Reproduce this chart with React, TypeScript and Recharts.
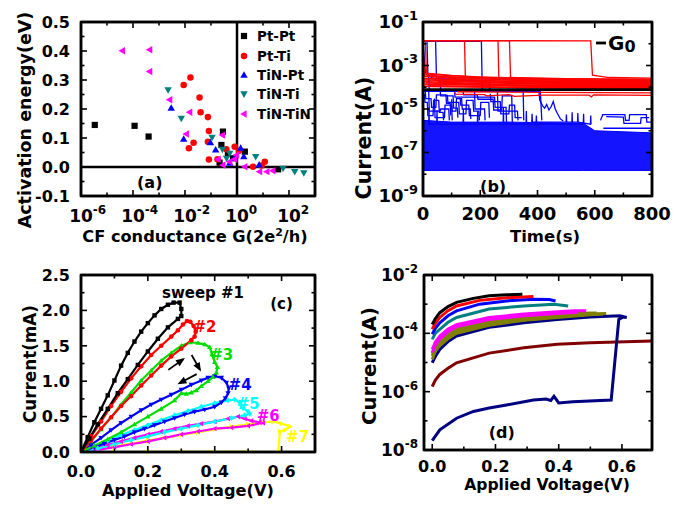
import React from 'react';
import {
  ScatterChart, Scatter, XAxis, YAxis, ReferenceLine, ReferenceDot,
  ComposedChart, Line, Area, LineChart,
} from 'recharts';

const FONT = "'DejaVu Sans', 'Liberation Sans', Arial, sans-serif";
const AXLINE = { stroke: '#000', strokeWidth: 2.5 };

// ---------------- Panel (a) data: [G (2e^2/h), Ea (eV)] ----------------
const ptPt: [number, number][] = [[3.39e-6, 0.145], [1.15e-4, 0.142], [3.98e-4, 0.105], [0.288, 0.122], [0.251, 0.076], [0.214, 0.015], [2.0, 0.053], [0.447, 0.045], [38, -0.008], [0.708, 0.03]];
const ptTi: [number, number][] = [[8.9e-3, 0.283], [1.62e-2, 0.309], [3.63e-2, 0.24], [3.98e-2, 0.189], [7.6e-2, 0.172], [8.3e-2, 0.124], [7.6e-2, 0.087], [2.14e-2, 0.084], [1.41e-2, 0.065], [8.3e-2, 0.026], [0.178, 0.027], [0.389, 0.061], [0.813, 0.07], [1.2, 0.056], [11.7, 0.018], [4.17, 0.001], [8.9, 0.005]];
const tinPt: [number, number][] = [[2.95e-3, 0.203], [8.9e-3, 0.096], [9.5e-2, 0.084], [0.151, 0.059], [1.38, 0.065], [1.82, 0.036], [7.1, 0.007], [0.525, 0.013], [0.794, 0.03]];
const tinTi: [number, number][] = [[2.24e-3, 0.266], [7.2e-3, 0.168], [0.11, 0.102], [0.275, 0.061], [0.525, 0.047], [5.25, 0.036], [58.9, -0.005], [166, -0.016], [372, -0.02], [0.398, 0.03]];
const tinTin: [number, number][] = [[3.9e-5, 0.401], [4.37e-4, 0.404], [4.37e-4, 0.329], [2.57e-3, 0.232], [1.51e-2, 0.189], [1.12e-2, 0.114], [0.275, 0.11], [0.186, 0.027], [0.525, 0.018], [0.813, 0.027], [2.0, 0.001], [7.4, -0.016], [14.1, -0.016], [24, -0.013], [0.288, 0.007], [0.955, 0.041]];

const ticksAx = [1e-6, 1e-5, 1e-4, 1e-3, 1e-2, 1e-1, 1, 10, 100, 1000];
const majorAx = [1e-6, 1e-4, 1e-2, 1, 100];
const ticksAy = [-0.1, -0.05, 0, 0.05, 0.1, 0.15, 0.2, 0.25, 0.3, 0.35, 0.4, 0.45, 0.5];
const majorAy = [-0.1, 0, 0.1, 0.2, 0.3, 0.4, 0.5];

// ---------------- Panel (b) data: [t (s), I (A)] ----------------
const G0 = 7.75e-5;
const redTraces: [number, number][][] = [
  [[0, 1.4e-2], [586, 1.35e-2], [592, 3.6e-4], [650, 2.8e-4], [800, 2.6e-4]],
  [[0, 1.4e-2], [302, 1.4e-2], [306, 2.6e-4], [500, 2.1e-4], [800, 2.0e-4]],
  [[0, 1.4e-2], [145, 1.4e-2], [148, 2.8e-4], [400, 1.9e-4], [800, 1.7e-4]],
  [[0, 1.4e-2], [262, 1.4e-2], [265, 2.3e-4], [500, 1.6e-4], [800, 1.5e-4]],
  [[0, 1.4e-2], [8, 1.4e-2], [12, 4.5e-4], [100, 3.5e-4], [250, 2.7e-4], [800, 2.2e-4]],
  [[0, 1.3e-2], [5, 3.2e-4], [200, 2.0e-4], [800, 1.3e-4]],
  [[0, 2.6e-4], [300, 1.5e-4], [800, 1.15e-4]],
  [[0, 1.8e-4], [400, 1.2e-4], [800, 1.0e-4]],
  [[0, 1.4e-4], [800, 9.2e-5]],
  [[0, 3.8e-4], [150, 2.5e-4], [450, 1.9e-4], [800, 1.8e-4]],
  [[20, 1.2e-4], [300, 1.0e-4], [800, 8.5e-5]],
  [[60, 3.0e-4], [350, 2.3e-4], [800, 2.1e-4]],
  [[0, 3.2e-4], [120, 2.9e-4], [400, 2.2e-4], [800, 1.95e-4]],
  [[0, 2.2e-4], [200, 1.75e-4], [600, 1.4e-4], [800, 1.35e-4]],
  [[10, 1.6e-4], [250, 1.3e-4], [800, 1.1e-4]],
  [[0, 1.1e-4], [350, 9.5e-5], [800, 8.8e-5]],
  [[30, 2.5e-4], [330, 1.8e-4], [700, 1.6e-4], [800, 1.55e-4]],
  [[50, 1.9e-4], [500, 1.3e-4], [800, 1.25e-4]],
  [[0, 4.2e-4], [60, 3.6e-4], [180, 3.0e-4], [500, 2.5e-4], [800, 2.35e-4]],
  [[100, 1.4e-4], [450, 1.05e-4], [800, 9.6e-5]],
  [[110, 6.0e-5], [115, 4.8e-5], [215, 4.6e-5], [222, 4.0e-5], [300, 4.6e-5], [320, 3.8e-5], [420, 4.3e-5], [580, 4.3e-5], [588, 3.6e-5], [596, 4.5e-5], [800, 4.2e-5]],
  [[120, 6.2e-5], [420, 5.8e-5], [800, 5.5e-5]],
];
const blueTraces: [number, number][][] = [
  [[0, 1.3e-2], [44, 1.3e-2], [47, 2.6e-4], [120, 2.3e-4], [200, 1.9e-4], [232, 1.6e-4], [235, 6.5e-5]],
  [[0, 1.3e-2], [204, 1.3e-2], [207, 6.5e-5], [410, 6.5e-5], [415, 3e-6]],
  [[0, 1.3e-2], [14, 1.3e-2], [17, 4e-4], [30, 2.8e-4], [60, 2e-4], [62, 6.5e-5]],
  [[0, 1.2e-2], [8, 5e-4], [20, 3e-4], [22, 6e-5]],
  [[0, 6.5e-5], [350, 6.5e-5], [352, 3e-6]],
  [[20, 6e-5], [22, 8e-6], [60, 8e-6], [62, 1e-5], [90, 1e-5], [92, 3e-6]],
  [[110, 6e-5], [112, 3.5e-5], [250, 3.5e-5], [252, 1.2e-5], [290, 1.2e-5], [292, 2e-6]],
  [[130, 3e-5], [132, 1.5e-5], [160, 1.5e-5], [162, 5e-6], [200, 5e-6], [202, 2e-5], [230, 2e-5], [232, 4e-6]],
  [[40, 3e-5], [42, 4e-6], [75, 4e-6], [77, 1.5e-5], [100, 1.5e-5], [102, 3e-6]],
  [[180, 6e-5], [182, 1e-5], [215, 1e-5], [217, 3e-6]],
  [[260, 6e-5], [262, 8e-6], [330, 8e-6], [332, 3e-6]],
  [[5, 5e-5], [7, 2e-5], [15, 2e-5], [17, 5e-6], [35, 5e-6], [37, 2.5e-5], [55, 2.5e-5], [57, 7e-6], [70, 7e-6], [72, 3e-6]],
  [[85, 4.5e-5], [87, 2e-5], [125, 2e-5], [127, 6e-6], [150, 6e-6], [152, 2.5e-5], [175, 2.5e-5], [177, 8e-6], [195, 8e-6], [197, 3e-6]],
  [[235, 5e-5], [237, 2.2e-5], [270, 2.2e-5], [272, 6e-6], [300, 6e-6], [302, 1.5e-5], [320, 1.5e-5], [322, 4e-6], [345, 4e-6]],
  [[60, 6.4e-5], [62, 4e-5], [105, 4e-5], [107, 1.1e-5], [120, 1.1e-5], [122, 4e-6]],
  [[8, 6.4e-5], [10, 3e-5], [28, 3e-5], [30, 1.2e-5], [45, 1.2e-5], [47, 4.5e-5], [80, 4.5e-5], [82, 1.8e-5], [95, 1.8e-5], [97, 5e-6]],
  [[140, 6.4e-5], [142, 4.5e-5], [190, 4.5e-5], [192, 2.8e-5], [245, 2.8e-5], [247, 9e-6], [275, 9e-6], [277, 4e-5], [310, 4e-5], [312, 2.5e-6]],
  [[100, 2.8e-5], [102, 8e-6], [115, 8e-6], [117, 3e-5], [135, 3e-5], [137, 1e-5], [165, 1e-5], [167, 3.5e-6]],
  [[405, 6.5e-5], [408, 2.5e-5], [418, 1.4e-5], [425, 1.1e-5], [432, 1.6e-5], [440, 9e-6], [448, 1.3e-5], [455, 2.2e-5], [462, 1e-5], [470, 6e-6], [480, 3.5e-6], [490, 2.8e-6]],
  [[620, 3e-6], [628, 5.5e-6], [705, 5.5e-6], [708, 3e-6], [720, 3e-6], [722, 5.5e-6], [780, 5.5e-6], [782, 2.5e-6], [800, 2.5e-6]],
  [[640, 4.5e-6], [700, 4.2e-6], [702, 2.2e-6], [760, 2.2e-6], [762, 4e-6], [790, 4e-6]],
  [[630, 1.3e-6], [800, 1.3e-6]],
  [[20, 2e-6], [21, 1.2e-5], [22, 2e-6], [48, 2e-6], [49, 9e-6], [50, 2e-6], [140, 2e-6], [141, 1e-5], [142, 2e-6], [190, 2e-6], [191, 8e-6], [192, 2e-6], [280, 2e-6], [281, 1.2e-5], [282, 2e-6], [360, 2e-6], [361, 8e-6], [362, 2e-6], [520, 2e-6], [521, 7e-6], [522, 2e-6], [560, 2e-6], [561, 6e-6], [562, 2e-6]],
  [[380, 2.5e-6], [381, 6e-6], [382, 2.5e-6], [395, 2.5e-6], [396, 5e-6], [397, 2.5e-6], [500, 2.5e-6], [501, 5.5e-6], [502, 2.5e-6], [540, 2.5e-6], [541, 6.5e-6], [542, 2.5e-6], [585, 2e-6], [586, 5e-6], [587, 2e-6]],
];
const bandT = [0, 100, 300, 560, 600, 800];
const bandLo = [1.5e-8, 1.5e-8, 1.5e-8, 1.5e-8, 1.5e-8, 1.5e-8];
const bandHi = [3e-6, 2.5e-6, 2.5e-6, 2.2e-6, 1e-6, 8e-7];
const redBandLo = [1.0e-4, 9.8e-5, 9.5e-5, 9.2e-5, 9.2e-5, 9.0e-5];
const redBandHi = [2.8e-4, 2.6e-4, 2.3e-4, 2.1e-4, 2.1e-4, 2.0e-4];

const ticksBx = [0, 100, 200, 300, 400, 500, 600, 700, 800];
const majorBx = [0, 200, 400, 600, 800];
const ticksBy = [1e-9, 1e-8, 1e-7, 1e-6, 1e-5, 1e-4, 1e-3, 1e-2, 1e-1];
const majorBy = [1e-9, 1e-7, 1e-5, 1e-3, 1e-1];

// ---------------- Panel (c) data: [V, I (mA)] ----------------
const sweep1: [number, number][] = [[0, 0], [0.02, 0.21], [0.04, 0.42], [0.06, 0.61], [0.08, 0.80], [0.10, 1.01], [0.12, 1.22], [0.14, 1.40], [0.16, 1.56], [0.18, 1.70], [0.20, 1.82], [0.22, 1.93], [0.24, 2.02], [0.26, 2.08], [0.277, 2.11], [0.295, 2.11], [0.30, 2.02], [0.30, 1.92], [0.29, 1.88], [0.26, 1.76], [0.23, 1.60], [0.20, 1.42], [0.17, 1.23], [0.14, 1.03], [0.11, 0.83], [0.08, 0.61], [0.05, 0.39], [0.025, 0.19], [0, 0]];
const sweep2: [number, number][] = [[0, 0], [0.03, 0.22], [0.06, 0.43], [0.09, 0.65], [0.12, 0.85], [0.15, 1.04], [0.18, 1.21], [0.21, 1.37], [0.24, 1.50], [0.27, 1.63], [0.29, 1.72], [0.305, 1.80], [0.317, 1.85], [0.327, 1.84], [0.337, 1.78], [0.343, 1.70], [0.34, 1.63], [0.33, 1.58], [0.30, 1.46], [0.27, 1.35], [0.24, 1.22], [0.21, 1.08], [0.18, 0.94], [0.15, 0.79], [0.12, 0.65], [0.09, 0.49], [0.06, 0.33], [0.03, 0.16], [0, 0]];
const sweep3: [number, number][] = [[0, 0], [0.03, 0.15], [0.06, 0.32], [0.09, 0.49], [0.12, 0.67], [0.15, 0.84], [0.18, 1.01], [0.21, 1.15], [0.24, 1.29], [0.27, 1.40], [0.30, 1.50], [0.327, 1.55], [0.35, 1.54], [0.37, 1.52], [0.385, 1.48], [0.392, 1.38], [0.40, 1.27], [0.408, 1.20], [0.405, 1.12], [0.395, 1.06], [0.38, 1.00], [0.36, 0.93], [0.345, 0.87], [0.33, 0.84], [0.315, 0.82], [0.30, 0.83], [0.28, 0.73], [0.24, 0.61], [0.20, 0.50], [0.16, 0.39], [0.12, 0.28], [0.08, 0.18], [0.04, 0.09], [0, 0]];
const sweep4: [number, number][] = [[0, 0], [0.03, 0.10], [0.06, 0.20], [0.09, 0.31], [0.12, 0.41], [0.15, 0.50], [0.18, 0.59], [0.21, 0.67], [0.24, 0.74], [0.27, 0.81], [0.30, 0.88], [0.33, 0.95], [0.36, 1.01], [0.38, 1.05], [0.40, 1.07], [0.42, 1.05], [0.435, 0.98], [0.442, 0.90], [0.44, 0.83], [0.432, 0.76], [0.42, 0.70], [0.40, 0.64], [0.37, 0.60], [0.34, 0.57], [0.31, 0.53], [0.28, 0.48], [0.25, 0.43], [0.22, 0.38], [0.19, 0.33], [0.16, 0.28], [0.13, 0.22], [0.10, 0.17], [0.07, 0.12], [0.04, 0.07], [0, 0]];
const sweep5: [number, number][] = [[0, 0], [0.04, 0.08], [0.08, 0.16], [0.12, 0.24], [0.16, 0.31], [0.20, 0.38], [0.24, 0.45], [0.28, 0.52], [0.32, 0.58], [0.36, 0.64], [0.40, 0.69], [0.44, 0.73], [0.46, 0.74], [0.475, 0.70], [0.485, 0.62], [0.50, 0.57], [0.505, 0.54], [0.49, 0.52], [0.45, 0.48], [0.40, 0.43], [0.35, 0.38], [0.30, 0.33], [0.25, 0.28], [0.20, 0.22], [0.15, 0.17], [0.10, 0.11], [0.05, 0.05], [0, 0]];
const sweep6: [number, number][] = [[0, 0], [0.04, 0.05], [0.08, 0.10], [0.12, 0.15], [0.16, 0.20], [0.20, 0.25], [0.24, 0.29], [0.28, 0.33], [0.32, 0.37], [0.36, 0.40], [0.40, 0.43], [0.44, 0.47], [0.47, 0.50], [0.49, 0.47], [0.51, 0.44], [0.535, 0.42], [0.545, 0.41], [0.50, 0.37], [0.45, 0.345], [0.40, 0.33], [0.35, 0.29], [0.30, 0.25], [0.25, 0.20], [0.20, 0.15], [0.15, 0.11], [0.10, 0.07], [0.05, 0.03], [0, 0]];
const sweep7: [number, number][] = [[0, 0], [0.05, 0.04], [0.10, 0.08], [0.15, 0.12], [0.20, 0.16], [0.25, 0.20], [0.30, 0.24], [0.35, 0.28], [0.40, 0.32], [0.45, 0.36], [0.50, 0.39], [0.54, 0.42], [0.575, 0.43], [0.60, 0.40], [0.625, 0.36], [0.61, 0.31], [0.595, 0.29], [0.59, 0.0], [0.50, 0.004], [0.40, 0.003], [0.30, 0.002], [0.20, 0.001], [0.10, 0.0], [0, 0]];

const ticksCx = [0, 0.1, 0.2, 0.3, 0.4, 0.5, 0.6, 0.7];
const majorCx = [0, 0.2, 0.4, 0.6];
const ticksCy = [0, 0.25, 0.5, 0.75, 1.0, 1.25, 1.5, 1.75, 2.0, 2.25, 2.5];
const majorCy = [0, 0.5, 1.0, 1.5, 2.0, 2.5];

const arrowFrom: [number, number][] = [[0.261, 1.16], [0.331, 1.37], [0.346, 1.10]];
const arrowTo: [number, number][] = [[0.306, 1.31], [0.356, 1.16], [0.294, 0.97]];

// ---------------- Panel (d) data: [V, I (A)] ----------------
const dBlack: [number, number][] = [[0, 2.0e-4], [0.01, 3.2e-4], [0.024, 5.1e-4], [0.05, 8.3e-4], [0.077, 1.15e-3], [0.13, 1.58e-3], [0.18, 1.95e-3], [0.235, 2.1e-3], [0.285, 2.2e-3]];
const dRed: [number, number][] = [[0, 1.38e-4], [0.01, 2.2e-4], [0.024, 3.5e-4], [0.05, 6e-4], [0.077, 8.7e-4], [0.15, 1.35e-3], [0.235, 1.66e-3], [0.32, 1.82e-3]];
const dBlue: [number, number][] = [[0, 9.3e-5], [0.01, 1.5e-4], [0.024, 2.3e-4], [0.05, 4e-4], [0.077, 5.9e-4], [0.15, 1e-3], [0.235, 1.29e-3], [0.32, 1.48e-3], [0.37, 1.45e-3], [0.39, 1.29e-3]];
const dTeal: [number, number][] = [[0, 6.2e-5], [0.01, 1e-4], [0.024, 1.38e-4], [0.05, 2.4e-4], [0.077, 3.5e-4], [0.18, 6.8e-4], [0.29, 8.7e-4], [0.385, 1e-3], [0.43, 8.7e-4]];
const dMag1: [number, number][] = [[0, 2.8e-5], [0.01, 5e-5], [0.024, 8.1e-5], [0.05, 1.4e-4], [0.077, 2e-4], [0.18, 3.5e-4], [0.29, 4.6e-4], [0.395, 5.5e-4], [0.45, 6.0e-4], [0.487, 5.9e-4]];
const dMag2: [number, number][] = [[0, 2.2e-5], [0.01, 4e-5], [0.024, 6.5e-5], [0.05, 1.15e-4], [0.077, 1.7e-4], [0.18, 3e-4], [0.29, 4e-4], [0.395, 4.8e-4], [0.46, 5.3e-4]];
const dOl1: [number, number][] = [[0, 1.66e-5], [0.01, 3.2e-5], [0.024, 4.8e-5], [0.05, 8.3e-5], [0.077, 1.2e-4], [0.18, 2.3e-4], [0.29, 3.3e-4], [0.395, 4e-4], [0.5, 4.6e-4], [0.55, 4.8e-4]];
const dOl2: [number, number][] = [[0, 1.26e-5], [0.01, 2.5e-5], [0.024, 3.8e-5], [0.05, 6.6e-5], [0.077, 1e-4], [0.18, 1.9e-4], [0.29, 2.8e-4], [0.395, 3.5e-4], [0.5, 4.3e-4], [0.54, 4.6e-4]];
const dOl3: [number, number][] = [[0, 2.0e-5], [0.01, 3.8e-5], [0.024, 5.8e-5], [0.05, 9.8e-5], [0.077, 1.4e-4], [0.18, 2.6e-4], [0.29, 3.7e-4], [0.395, 4.4e-4], [0.46, 4.9e-4], [0.52, 5e-4]];
const dNavy: [number, number][] = [[0, 2.1e-8], [0.024, 4.9e-8], [0.077, 1.23e-7], [0.13, 2.1e-7], [0.18, 2.75e-7], [0.235, 3.5e-7], [0.32, 5.2e-7], [0.36, 5.6e-7], [0.375, 5.0e-7], [0.385, 6.9e-7], [0.40, 4.1e-7], [0.445, 4.5e-7], [0.566, 5.2e-7], [0.59, 3.0e-4], [0.603, 3.6e-4], [0.615, 3.5e-4], [0.593, 4e-4], [0.5, 3.6e-4], [0.395, 3e-4], [0.29, 2.3e-4], [0.18, 1.6e-4], [0.077, 8.1e-5], [0.05, 5.2e-5], [0.024, 2.8e-5], [0.01, 1.6e-5], [0, 9.8e-6]];
const dBrown: [number, number][] = [[0, 1.5e-6], [0.01, 2.5e-6], [0.024, 3.9e-6], [0.05, 6.3e-6], [0.077, 9.8e-6], [0.18, 2.1e-5], [0.29, 3.2e-5], [0.395, 4.2e-5], [0.5, 4.8e-5], [0.695, 5.5e-5]];

const ticksDx = [0, 0.1, 0.2, 0.3, 0.4, 0.5, 0.6];
const majorDx = [0, 0.2, 0.4, 0.6];
const ticksDy = [1e-8, 1e-7, 1e-6, 1e-5, 1e-4, 1e-3, 1e-2];
const majorDy = [1e-8, 1e-6, 1e-4, 1e-2];

// ---------------- helpers ----------------
const xy = (arr: [number, number][], kx: string, ky: string) => arr.map(([a, b]) => ({ [kx]: a, [ky]: b }));

function inSet(v: number, arr: number[]) {
  return arr.some((a) => Math.abs(a - v) <= Math.abs(a) * 1e-6 + 1e-9);
}

type TickCfg = { side: 'b' | 'l'; edge: number; mirror: number; majors: number[]; text: 'lin' | 'int' | 'pow'; pos: number; fs: number };

function makeTick(c: TickCfg) {
  return (p: any) => {
    const v = p && p.payload ? p.payload.value : 0;
    const major = inSet(v, c.majors);
    const L = major ? 6 : 3.5;
    const k = c.side === 'b' ? p.x : p.y;
    const ls = { stroke: '#000', strokeWidth: 1.6 };
    const lines = c.side === 'b'
      ? [<line key="a" x1={k} x2={k} y1={c.edge} y2={c.edge - L} {...ls} />, <line key="b" x1={k} x2={k} y1={c.mirror} y2={c.mirror + L} {...ls} />]
      : [<line key="a" y1={k} y2={k} x1={c.edge} x2={c.edge + L} {...ls} />, <line key="b" y1={k} y2={k} x1={c.mirror} x2={c.mirror - L} {...ls} />];
    let tx: any = null;
    if (major) {
      const fs = c.fs;
      const sup = Math.round(fs * 0.72);
      const st = { fontFamily: FONT, fontWeight: 'bold' as const, fill: '#000' };
      if (c.text === 'lin' || c.text === 'int') {
        const s = c.text === 'int' ? v.toFixed(0) : Math.abs(v) < 1e-9 ? '0.0' : v.toFixed(1);
        if (c.side === 'b') tx = <text x={k} y={c.pos} textAnchor="middle" fontSize={fs} {...st}>{s}</text>;
        else tx = <text x={c.pos} y={k + 0.36 * fs} textAnchor="end" fontSize={fs} {...st}>{s}</text>;
      } else {
        const e = Math.round(Math.log10(v));
        const inner = [
          <tspan key="m">10</tspan>,
          <tspan key="s" dy={-0.48 * fs} fontSize={sup}>{String(e)}</tspan>,
        ];
        if (c.side === 'b') tx = <text x={k - 0.696 * fs} y={c.pos} textAnchor="start" fontSize={fs} {...st}>{inner}</text>;
        else tx = <text x={c.pos} y={k + 0.36 * fs} textAnchor="end" fontSize={fs} {...st}>{inner}</text>;
      }
    }
    return <g>{lines}{tx}</g>;
  };
}

function Marker({ kind, cx, cy, s, color }: any) {
  if (cx == null || cy == null || isNaN(cx) || isNaN(cy)) return null;
  switch (kind) {
    case 'square':
      return <rect x={cx - s} y={cy - s} width={2 * s} height={2 * s} fill={color} />;
    case 'circle':
      return <circle cx={cx} cy={cy} r={s * 1.05} fill={color} />;
    case 'up':
      return <polygon points={`${cx},${cy - s * 1.25} ${cx - s * 1.2},${cy + s * 0.85} ${cx + s * 1.2},${cy + s * 0.85}`} fill={color} />;
    case 'down':
      return <polygon points={`${cx},${cy + s * 1.25} ${cx - s * 1.2},${cy - s * 0.85} ${cx + s * 1.2},${cy - s * 0.85}`} fill={color} />;
    case 'left':
      return <polygon points={`${cx - s * 1.25},${cy} ${cx + s * 0.85},${cy - s * 1.2} ${cx + s * 0.85},${cy + s * 1.2}`} fill={color} />;
    case 'right':
      return <polygon points={`${cx + s * 1.25},${cy} ${cx - s * 0.85},${cy - s * 1.2} ${cx - s * 0.85},${cy + s * 1.2}`} fill={color} />;
    case 'diamond':
      return <polygon points={`${cx},${cy - s * 1.3} ${cx + s * 1.1},${cy} ${cx},${cy + s * 1.3} ${cx - s * 1.1},${cy}`} fill={color} />;
    default:
      return <circle cx={cx} cy={cy} r={s} fill={color} />;
  }
}

const TXT = { fontFamily: FONT, fontWeight: 'bold' as const };

function frameLines(xMax: number, yMax: number) {
  return [
    <ReferenceLine key="fr" xAxisId="x" yAxisId="y" x={xMax} stroke="#000" strokeWidth={2.5} />,
    <ReferenceLine key="ft" xAxisId="x" yAxisId="y" y={yMax} stroke="#000" strokeWidth={2.5} />,
  ];
}

// ---------------- Panel A ----------------
const seriesA = [
  { name: 'Pt-Pt', data: ptPt, kind: 'square', color: '#000000' },
  { name: 'Pt-Ti', data: ptTi, kind: 'circle', color: '#ff0000' },
  { name: 'TiN-Pt', data: tinPt, kind: 'up', color: '#0000ff' },
  { name: 'TiN-Ti', data: tinTi, kind: 'down', color: '#008080' },
  { name: 'TiN-TiN', data: tinTin, kind: 'left', color: '#ff00ff' },
];

function PanelA() {
  return (
    <ScatterChart width={340} height={250} margin={{ top: 22, right: 25, bottom: 0, left: 0 }}>
      <XAxis xAxisId="x" dataKey="g" type="number" scale="log" domain={[1e-6, 1e3]} ticks={ticksAx} interval={0} allowDataOverflow height={54} axisLine={AXLINE} tickLine={false} tick={makeTick({ side: 'b', edge: 196, mirror: 22, majors: majorAx, text: 'pow', pos: 222, fs: 17 })} />
      <YAxis yAxisId="y" dataKey="e" type="number" domain={[-0.1, 0.5]} ticks={ticksAy} interval={0} allowDataOverflow width={81} axisLine={AXLINE} tickLine={false} tick={makeTick({ side: 'l', edge: 81, mirror: 315, majors: majorAy, text: 'lin', pos: 70, fs: 16 })} />
      <ReferenceLine xAxisId="x" yAxisId="y" y={0} stroke="#000" strokeWidth={2.5} />
      <ReferenceLine xAxisId="x" yAxisId="y" x={1} stroke="#000" strokeWidth={2.5} />
      {seriesA.map((s) => (
        <Scatter key={s.name} name={s.name} xAxisId="x" yAxisId="y" data={xy(s.data, 'g', 'e')} isAnimationActive={false}
          shape={(p: any) => <Marker kind={s.kind} cx={p.cx} cy={p.cy} s={3.1} color={s.color} />} />
      ))}
      <ReferenceDot xAxisId="x" yAxisId="y" x={4.4e-4} y={-0.052} r={1}
        shape={(p: any) => <text x={p.cx} y={p.cy + 6} textAnchor="middle" fontSize={16} {...TXT}>(a)</text>} />
      {frameLines(1e3, 0.5)}
    </ScatterChart>
  );
}

// ---------------- Panel B ----------------
function PanelB() {
  const band = bandT.map((t, i) => ({ t, band: [bandLo[i], bandHi[i]], redBand: [redBandLo[i], redBandHi[i]] }));
  return (
    <ComposedChart width={339} height={250} data={band} margin={{ top: 22, right: 27, bottom: 0, left: 0 }}>
      <XAxis xAxisId="x" dataKey="t" type="number" domain={[0, 800]} ticks={ticksBx} interval={0} allowDataOverflow height={54} axisLine={AXLINE} tickLine={false} tick={makeTick({ side: 'b', edge: 196, mirror: 22, majors: majorBx, text: 'int', pos: 220, fs: 18 })} />
      <YAxis yAxisId="y" type="number" scale="log" domain={[1e-9, 1e-1]} ticks={ticksBy} interval={0} allowDataOverflow width={83} axisLine={AXLINE} tickLine={false} tick={makeTick({ side: 'l', edge: 83, mirror: 312, majors: majorBy, text: 'pow', pos: 78, fs: 18 })} />
      <Area xAxisId="x" yAxisId="y" dataKey="band" type="linear" stroke="#0000ff" strokeWidth={1} fill="#0000ff" fillOpacity={0.92} isAnimationActive={false} />
      {blueTraces.map((d, i) => (
        <Line key={'b' + i} xAxisId="x" yAxisId="y" data={xy(d, 't', 'i')} dataKey="i" type="linear" stroke="#0000ff" strokeWidth={1.3} dot={false} activeDot={false} isAnimationActive={false} />
      ))}
      <Area xAxisId="x" yAxisId="y" dataKey="redBand" type="linear" stroke="none" fill="#ff0000" fillOpacity={0.55} isAnimationActive={false} />
      {redTraces.map((d, i) => (
        <Line key={'r' + i} xAxisId="x" yAxisId="y" data={xy(d, 't', 'i')} dataKey="i" type="linear" stroke="#ff0000" strokeWidth={1.3} dot={false} activeDot={false} isAnimationActive={false} />
      ))}
      <ReferenceLine xAxisId="x" yAxisId="y" y={G0} stroke="#000" strokeWidth={2.8} />
      <ReferenceDot xAxisId="x" yAxisId="y" x={245} y={2.9e-9} r={1}
        shape={(p: any) => <text x={p.cx} y={p.cy + 6} textAnchor="middle" fontSize={16} {...TXT}>(b)</text>} />
      {frameLines(800, 1e-1)}
    </ComposedChart>
  );
}

// ---------------- Panel C ----------------
const seriesC = [
  { name: 'sweep #1', data: sweep1, color: '#000000', kind: 'square' },
  { name: '#2', data: sweep2, color: '#ff0000', kind: 'circle' },
  { name: '#3', data: sweep3, color: '#00dd00', kind: 'up' },
  { name: '#4', data: sweep4, color: '#0000ff', kind: 'down' },
  { name: '#5', data: sweep5, color: '#00ffff', kind: 'diamond' },
  { name: '#6', data: sweep6, color: '#ff00ff', kind: 'left' },
  { name: '#7', data: sweep7, color: '#ffff00', kind: 'right' },
];
const labelsC = [
  { text: 'sweep #1', v: 0.365, i: 2.25, color: '#000000' },
  { text: '#2', v: 0.371, i: 1.77, color: '#ff0000' },
  { text: '#3', v: 0.421, i: 1.38, color: '#00dd00' },
  { text: '#4', v: 0.476, i: 0.96, color: '#0000ff' },
  { text: '#5', v: 0.50, i: 0.68, color: '#00ffff' },
  { text: '#6', v: 0.56, i: 0.52, color: '#ff00ff' },
  { text: '#7', v: 0.648, i: 0.22, color: '#ffff00' },
  { text: '(c)', v: 0.60, i: 2.10, color: '#000000' },
];
const PX_V = 334.3;
const PX_MA = 70.8;

function PanelC() {
  return (
    <LineChart width={340} height={257} margin={{ top: 25, right: 25, bottom: 0, left: 0 }}>
      <XAxis xAxisId="x" dataKey="v" type="number" domain={[0, 0.7]} ticks={ticksCx} interval={0} allowDataOverflow height={55} axisLine={AXLINE} tickLine={false} tick={makeTick({ side: 'b', edge: 202, mirror: 25, majors: majorCx, text: 'lin', pos: 227, fs: 16 })} />
      <YAxis yAxisId="y" type="number" domain={[0, 2.5]} ticks={ticksCy} interval={0} allowDataOverflow width={81} axisLine={AXLINE} tickLine={false} tick={makeTick({ side: 'l', edge: 81, mirror: 315, majors: majorCy, text: 'lin', pos: 70, fs: 16 })} />
      {seriesC.slice().reverse().map((s) => (
        <Line key={s.name} xAxisId="x" yAxisId="y" data={xy(s.data, 'v', 'i')} dataKey="i" type="linear" stroke={s.color} strokeWidth={2.2} isAnimationActive={false}
          dot={(p: any) => <Marker key={p.index} kind={s.kind} cx={p.cx} cy={p.cy} s={2.2} color={s.color} />} activeDot={false} />
      ))}
      {arrowFrom.map((f, k) => {
        const t = arrowTo[k];
        const dx = (t[0] - f[0]) * PX_V;
        const dy = -(t[1] - f[1]) * PX_MA;
        const deg = (Math.atan2(dy, dx) * 180) / Math.PI;
        return [
          <ReferenceLine key={'al' + k} xAxisId="x" yAxisId="y" segment={[{ x: f[0], y: f[1] }, { x: t[0], y: t[1] }]} stroke="#000" strokeWidth={1.8} />,
          <ReferenceDot key={'ah' + k} xAxisId="x" yAxisId="y" x={t[0]} y={t[1]} r={1}
            shape={(p: any) => <polygon points="2,0 -7,-3.6 -7,3.6" transform={`translate(${p.cx},${p.cy}) rotate(${deg})`} fill="#000" />} />,
        ];
      })}
      {labelsC.map((l) => (
        <ReferenceDot key={l.text} xAxisId="x" yAxisId="y" x={l.v} y={l.i} r={1}
          shape={(p: any) => <text x={p.cx} y={p.cy + 5.5} textAnchor="middle" fontSize={15} fill={l.color} {...TXT}>{l.text}</text>} />
      ))}
      {frameLines(0.7, 2.5)}
    </LineChart>
  );
}

// ---------------- Panel D ----------------
const seriesD = [
  { key: 'brown', data: dBrown, color: '#800000' },
  { key: 'navy', data: dNavy, color: '#000080' },
  { key: 'ol2', data: dOl2, color: '#808000' },
  { key: 'ol1', data: dOl1, color: '#808000' },
  { key: 'ol3', data: dOl3, color: '#808000' },
  { key: 'mag2', data: dMag2, color: '#ff00ff' },
  { key: 'mag1', data: dMag1, color: '#ff00ff' },
  { key: 'teal', data: dTeal, color: '#008080' },
  { key: 'blue', data: dBlue, color: '#0000ff' },
  { key: 'red', data: dRed, color: '#ff0000' },
  { key: 'black', data: dBlack, color: '#000000' },
];

function PanelD() {
  return (
    <LineChart width={339} height={257} margin={{ top: 25, right: 27, bottom: 0, left: 0 }}>
      <XAxis xAxisId="x" dataKey="v" type="number" domain={[-0.026, 0.695]} ticks={ticksDx} interval={0} allowDataOverflow height={57} axisLine={AXLINE} tickLine={false} tick={makeTick({ side: 'b', edge: 200, mirror: 25, majors: majorDx, text: 'lin', pos: 222, fs: 16 })} />
      <YAxis yAxisId="y" type="number" scale="log" domain={[1e-8, 1e-2]} ticks={ticksDy} interval={0} allowDataOverflow width={84} axisLine={AXLINE} tickLine={false} tick={makeTick({ side: 'l', edge: 84, mirror: 312, majors: majorDy, text: 'pow', pos: 78, fs: 17 })} />
      {seriesD.map((s) => (
        <Line key={s.key} xAxisId="x" yAxisId="y" data={xy(s.data, 'v', 'i')} dataKey="i" type="linear" stroke={s.color} strokeWidth={3} dot={false} activeDot={false} isAnimationActive={false} />
      ))}
      <ReferenceDot xAxisId="x" yAxisId="y" x={0.22} y={4.2e-8} r={1}
        shape={(p: any) => <text x={p.cx} y={p.cy + 6} textAnchor="middle" fontSize={16} {...TXT}>(d)</text>} />
      {frameLines(0.695, 1e-2)}
    </LineChart>
  );
}

// ---------------- Overlay: plot frames, axis titles and legends ----------------
const frames = [
  { x: 81, y: 22, w: 234, h: 174 },
  { x: 423, y: 22, w: 229, h: 174 },
  { x: 81, y: 275, w: 234, h: 177 },
  { x: 424, y: 275, w: 228, h: 175 },
];

function Overlay() {
  const rowsA = [36, 56, 75, 94, 114];
  return (
    <svg width={679} height={507} style={{ position: 'absolute', left: 0, top: 0, pointerEvents: 'none' }}>
      {frames.map((f, i) => (
        <rect key={i} x={f.x} y={f.y} width={f.w} height={f.h} fill="none" stroke="#000" strokeWidth={2.5} />
      ))}
      <g {...TXT} fill="#000">
        <text transform="translate(31,120) rotate(-90)" textAnchor="middle" fontSize={17.5}>Activation energy(eV)</text>
        <text x={195} y={242} textAnchor="middle" fontSize={16.2}>
          CF conductance G(2e<tspan dy={-6} fontSize={11}>2</tspan><tspan dy={6}>/h)</tspan>
        </text>
        <text transform="translate(371,138) rotate(-90)" textAnchor="middle" fontSize={20.5}>Current(A)</text>
        <text x={545} y={242} textAnchor="middle" fontSize={16.5}>Time(s)</text>
        <text transform="translate(36,364) rotate(-90)" textAnchor="middle" fontSize={16.8}>Current(mA)</text>
        <text x={188} y={496} textAnchor="middle" fontSize={16.2}>Applied Voltage(V)</text>
        <text transform="translate(376,366) rotate(-90)" textAnchor="middle" fontSize={19.7}>Current(A)</text>
        <text x={547} y={490} textAnchor="middle" fontSize={15.6}>Applied Voltage(V)</text>
      </g>
      {seriesA.map((s, k) => (
        <g key={s.name}>
          <Marker kind={s.kind} cx={244} cy={rowsA[k]} s={3.1} color={s.color} />
          <text x={257} y={rowsA[k] + 5} fontSize={13.5} {...TXT} fill="#000">{s.name}</text>
        </g>
      ))}
      <line x1={596} x2={606} y1={43} y2={43} stroke="#000" strokeWidth={2.8} />
      <text x={608} y={50} fontSize={20} {...TXT} fill="#000">G<tspan fontSize={16} dy={2}>0</tspan></text>
    </svg>
  );
}

export default function App() {
  return (
    <div style={{ position: 'absolute', left: 0, top: 0, width: 679, height: 507, background: '#fff' }}>
      <div style={{ position: 'absolute', left: 0, top: 0 }}><PanelA /></div>
      <div style={{ position: 'absolute', left: 340, top: 0 }}><PanelB /></div>
      <div style={{ position: 'absolute', left: 0, top: 250 }}><PanelC /></div>
      <div style={{ position: 'absolute', left: 340, top: 250 }}><PanelD /></div>
      <Overlay />
    </div>
  );
}
